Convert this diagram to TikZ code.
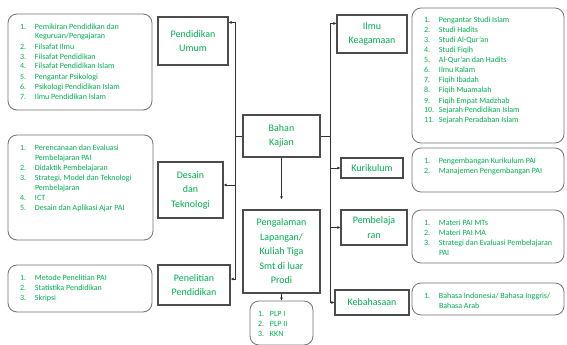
\documentclass[tikz,border=0pt]{standalone}
\usepackage{fontspec}
\setmainfont{Carlito}
\usetikzlibrary{arrows.meta,positioning,calc}
\definecolor{kGreen}{HTML}{00B050}
\definecolor{kLine}{HTML}{333333}
\newcommand{\lstbox}[3]{\parbox[c][\dimexpr#2-16pt][t]{\dimexpr#1-24pt}{%
  \begin{tabular}{@{}p{15pt}@{}l@{}}#3\end{tabular}}}
\tikzset{
  lbl/.style 2 args={draw=black!70, line width=1.1pt, fill=white, text=kGreen, align=center,
              font=\fontsize{10}{14.5}\selectfont, execute at begin node=\color{kGreen},
              inner sep=0pt, minimum width=#1, minimum height=#2},
  lst/.style={draw=black!55, line width=0.8pt, rounded corners=9pt, fill=white,
              text=kGreen, font=\fontsize{8}{10}\selectfont, inner xsep=12pt, inner ysep=8pt},
  line/.style={kLine, line width=0.7pt},
  arr/.style={-{Latex[length=3pt,width=3pt]}, kLine, line width=0.7pt},
}
\begin{document}
\begin{tikzpicture}[x=1pt,y=-1pt]
    \useasboundingbox (0,0) rectangle (567,345);
    \node[lst] (fil) at (80,62) {\lstbox{144pt}{96pt}{1. & Pemikiran Pendidikan dan\\ & Keguruan/Pengajaran\\
      2. & Filsafat Ilmu\\ 3. & Filsafat Pendidikan\\ 4. & Filsafat Pendidikan Islam\\
      5. & Pengantar Psikologi\\ 6. & Psikologi Pendidikan Islam\\ 7. & Ilmu Pendidikan Islam}};
    \node[lbl={70pt}{48pt}] (pu) at (193,41) {Pendidikan\\Umum};
    \node[lst] (des) at (80.5,187.5) {\lstbox{145pt}{105pt}{1. & Perencanaan dan Evaluasi\\ & Pembelajaran PAI\\
      2. & Didaktik Pembelajaran\\ 3. & Strategi, Model dan Teknologi\\ & Pembelajaran\\
      4. & ICT\\ 5. & Desain dan Aplikasi Ajar PAI}};
    \node[lbl={65pt}{56pt}] (dt) at (190.5,190) {Desain\\dan\\Teknologi};
    \node[lst] (pen) at (80,288.5) {\lstbox{144pt}{47pt}{1. & Metode Penelitian PAI\\
      2. & Statistika Pendidikan\\ 3. & Skripsi}};
    \node[lbl={72pt}{40pt}] (pp) at (194,285) {Penelitian\\Pendidikan};
    \node[lbl={77pt}{42pt}] (bk) at (281.5,136) {Bahan\\Kajian};
    \node[lbl={77pt}{83pt}] (pl) at (281.5,251.5) {Pengalaman\\Lapangan/\\Kuliah Tiga\\Smt di luar\\Prodi};
    \node[lst, inner xsep=8pt] (plp) at (281.5,323) {\parbox[c][28pt][t]{47pt}{%
      \begin{tabular}{@{}p{12pt}@{}l@{}}1. & PLP I\\ 2. & PLP II\\ 3. & KKN\end{tabular}}};
    \node[lbl={70pt}{38pt}] (ik) at (372,34) {Ilmu\\Keagamaan};
    \node[lst] (agm) at (488,75.5) {\lstbox{152pt}{135pt}{1. & Pengantar Studi Islam\\
      2. & Studi Hadits\\ 3. & Studi Al-Qur'an\\ 4. & Studi Fiqih\\ 5. & Al-Qur'an dan Hadits\\
      6. & Ilmu Kalam\\ 7. & Fiqih Ibadah\\ 8. & Fiqih Muamalah\\ 9. & Fiqih Empat Madzhab\\
      10. & Sejarah Pendidikan Islam\\ 11. & Sejarah Peradaban Islam}};
    \node[lbl={62pt}{20pt}] (ku) at (372,168) {Kurikulum};
    \node[lst] (kur) at (488,170) {\lstbox{152pt}{44pt}{1. & Pengembangan Kurikulum PAI\\
      2. & Manajemen Pengembangan PAI}};
    \node[lbl={66pt}{35pt}] (pb) at (374,227.5) {Pembelaja\\ran};
    \node[lst] (pem) at (488,236.5) {\lstbox{152pt}{53pt}{1. & Materi PAI MTs\\ 2. & Materi PAI MA\\
      3. & Strategi dan Evaluasi Pembelajaran\\ & PAI}};
    \node[lbl={74pt}{25pt}] (kb) at (372,302.5) {Kebahasaan};
    \node[lst] (bhs) at (488,299) {\lstbox{152pt}{32pt}{1. & Bahasa Indonesia/ Bahasa Inggris/\\
      & Bahasa Arab}};
    \coordinate (lbus) at (235,136);
    \coordinate (rbus) at (330,136);
    \draw[line] (bk.west) -- (lbus);
    \draw[line] (bk.east) -- (rbus);
    \draw[arr] (lbus) |- ([yshift=-6pt]pu.north east);
    \draw[arr] (lbus) |- ([yshift=5pt]dt.east);
    \draw[arr] (lbus) |- ([yshift=6pt]pp.east);
    \draw[arr] (rbus) |- ([yshift=-9pt]ik.north west);
    \draw[arr] (rbus) |- (ku.west);
    \draw[arr] (rbus) |- (pb.west);
    \draw[arr] (rbus) |- (kb.west);
    \draw[arr, shorten >=10pt] (bk.south) -- (pl.north);
    \draw[arr] (pl.south) -- (plp.north);
  \end{tikzpicture}
\end{document}
